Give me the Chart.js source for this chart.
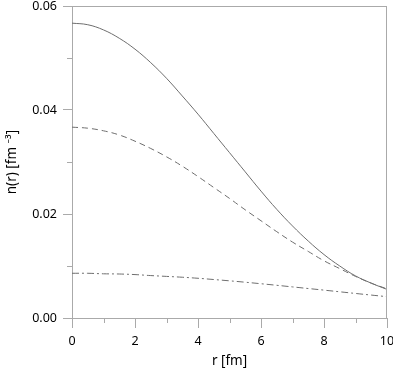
<!DOCTYPE html>
<html>
<head>
<meta charset="utf-8">
<script src="https://cdn.jsdelivr.net/npm/chart.js@4.4.1/dist/chart.umd.min.js"></script>
<style>
  html, body { margin: 0; padding: 0; background: #fff; }
  #wrap { width: 393px; height: 370px; }
</style>
</head>
<body>
<div id="wrap"><canvas id="cvs_densidade"></canvas></div>
<script>
// r [fm]
const raios = [0, 0.5, 1, 1.5, 2, 2.5, 3, 3.5, 4, 4.5, 5, 5.5, 6, 6.5, 7, 7.5, 8, 8.5, 9, 9.5, 10];
// curva cheia
const densTotal = [0.0567, 0.0564, 0.0554, 0.0538, 0.0517, 0.0491, 0.0461, 0.0427, 0.0392, 0.0355, 0.0318,
  0.0281, 0.0244, 0.0209, 0.0177, 0.0148, 0.0122, 0.0100, 0.0081, 0.0067, 0.0055];
// curva tracejada
const densTracejada = [0.0367, 0.0365, 0.0360, 0.0352, 0.0340, 0.0326, 0.0310, 0.0292, 0.0272, 0.0251, 0.0230,
  0.0208, 0.0187, 0.0166, 0.0146, 0.0128, 0.0110, 0.0095, 0.0080, 0.0067, 0.0056];
// curva traço-ponto
const densTracoPonto = [0.0086, 0.0086, 0.0085, 0.00846, 0.00835, 0.00816, 0.0080, 0.00784, 0.00764, 0.0074, 0.00715,
  0.00688, 0.00659, 0.00629, 0.00598, 0.00567, 0.00536, 0.00504, 0.00472, 0.00441, 0.0041];
const ticksMenoresX = [1, 3, 5, 7, 9];
const ticksMenoresY = [0.01, 0.03, 0.05];

const corEixo = "#aaaaaa";
const corLinha = "#6e6e6e";
const fonte = "'Noto Sans', 'DejaVu Sans', sans-serif";

function pontos(ys) {
  return raios.map((r, i) => ({ x: r, y: ys[i] }));
}

// desenha moldura e ticks menores
const molduraPlugin = {
  id: "moldura",
  afterDraw(chart) {
    const ctx = chart.ctx;
    const a = chart.chartArea;
    const sx = chart.scales.x;
    const sy = chart.scales.y;
    ctx.save();
    ctx.strokeStyle = corEixo;
    ctx.lineWidth = 1;
    ctx.beginPath();
    ctx.moveTo(a.left, a.top + 0.5);
    ctx.lineTo(a.right, a.top + 0.5);
    ctx.moveTo(a.right - 0.5, a.top);
    ctx.lineTo(a.right - 0.5, a.bottom);
    ticksMenoresX.forEach(v => {
      const px = Math.round(sx.getPixelForValue(v)) + 0.5;
      ctx.moveTo(px, a.bottom);
      ctx.lineTo(px, a.bottom + 5);
    });
    ticksMenoresY.forEach(v => {
      const py = Math.round(sy.getPixelForValue(v)) + 0.5;
      ctx.moveTo(a.left - 5, py);
      ctx.lineTo(a.left, py);
    });
    ctx.stroke();
    ctx.restore();
  }
};

new Chart(document.getElementById("cvs_densidade"), {
  type: "line",
  data: {
    datasets: [
      { data: pontos(densTotal), borderColor: corLinha, borderWidth: 1, pointRadius: 0, tension: 0.4, fill: false },
      { data: pontos(densTracejada), borderColor: corLinha, borderWidth: 1, borderDash: [6, 4], pointRadius: 0, tension: 0.4, fill: false },
      { data: pontos(densTracoPonto), borderColor: corLinha, borderWidth: 1, borderDash: [7, 3, 2, 3], pointRadius: 0, tension: 0.4, fill: false }
    ]
  },
  options: {
    responsive: true,
    maintainAspectRatio: false,
    animation: false,
    layout: { padding: { top: 6, right: 6, left: 0, bottom: 0 } },
    plugins: { legend: { display: false }, tooltip: { enabled: false } },
    scales: {
      x: {
        type: "linear",
        min: 0,
        max: 10,
        afterFit(scale) { scale.height = 52; scale.paddingLeft = 0; scale.paddingRight = 0; },
        ticks: { stepSize: 2, color: "#000", padding: 6, font: { family: fonte, size: 12.5 } },
        grid: { drawOnChartArea: false, tickLength: 10, color: corEixo },
        border: { color: corEixo },
        title: { display: true, text: "r [fm]", color: "#000", padding: { top: 2, bottom: 1 }, font: { family: fonte, size: 13.5 } }
      },
      y: {
        min: 0,
        max: 0.06,
        afterFit(scale) { scale.width = 72; scale.paddingTop = 0; scale.paddingBottom = 0; },
        ticks: { stepSize: 0.02, color: "#000", padding: 6, font: { family: fonte, size: 12.5 },
          callback: v => v.toFixed(2) },
        grid: { drawOnChartArea: false, tickLength: 9, color: corEixo },
        border: { color: corEixo },
        title: { display: true, text: "n(r) [fm ⁻³]", color: "#000", padding: { top: 4, bottom: 2 }, font: { family: fonte, size: 13.5 } }
      }
    }
  },
  plugins: [molduraPlugin]
});
</script>
</body>
</html>
